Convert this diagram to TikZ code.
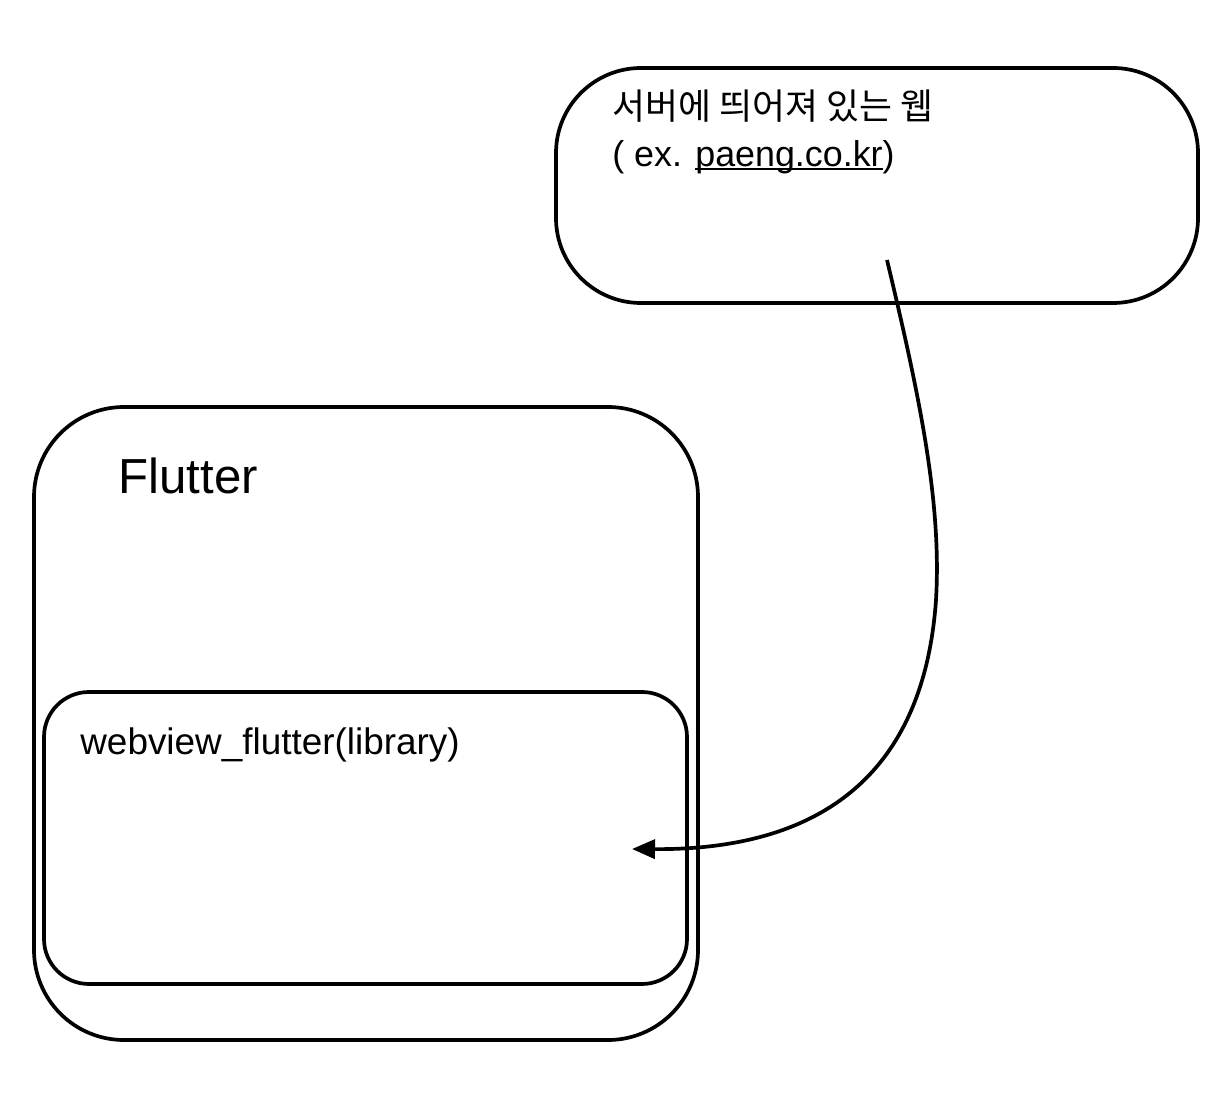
\documentclass[tikz,border=0pt]{standalone}
\usepackage{fontspec}
\setmainfont{Liberation Sans}
\newfontfamily\cjk{Noto Sans CJK KR}
\usetikzlibrary{arrows.meta}
\newcommand\ulx[1]{\setbox0\hbox{#1}\rlap{\rule[-0.09em]{\wd0}{0.065em}}\box0}
\tikzset{
  boxline/.style={draw=black, line width=3.7*0.02cm},
  lbl/.style={inner sep=0pt, anchor=base west},
  conn/.style={draw=black, line width=3.7*0.02cm, -{Triangle[length=0.46cm,width=0.38cm]}},
}
\begin{document}
\begin{tikzpicture}[x=0.02cm,y=-0.02cm]
\useasboundingbox (0,0) rectangle (1228,1094);
% boxes
\draw[boxline, rounded corners=1.7cm] (556,68) rectangle (1198,303);
\node[inner sep=0pt, minimum size=0pt] (web) at (877,185) {};
\draw[boxline, rounded corners=1.8cm] (34,407) rectangle (698,1040);
\node[inner sep=0pt, minimum size=0pt] (flutter) at (366,723) {};
\draw[boxline, rounded corners=0.9cm] (44,692) rectangle (687,984);
\node[inner sep=0pt, minimum size=0pt] (lib) at (365,838) {};
% texts
\node[lbl, font=\fontsize{20.4pt}{24pt}\selectfont] (t1) at (612,120) {\cjk 서버에 띄어져 있는 웹};
\node[lbl, font=\fontsize{20.4pt}{24pt}\selectfont] (t2) at (612,167) {( ex. \ulx{paeng.co.kr})};
\node[lbl, font=\fontsize{28pt}{32pt}\selectfont] (t3) at (118,494) {Flutter};
\node[lbl, font=\fontsize{21pt}{24pt}\selectfont] (t4) at (80,755) {webview\_flutter(library)};
% connector
\coordinate (s) at (887,260);
\coordinate (e) at (632,849);
\draw[conn] (s) .. controls (918,390) and (942,500) .. (936,600)
  .. controls (922,800) and (790,850) .. (e);
\end{tikzpicture}
\end{document}
